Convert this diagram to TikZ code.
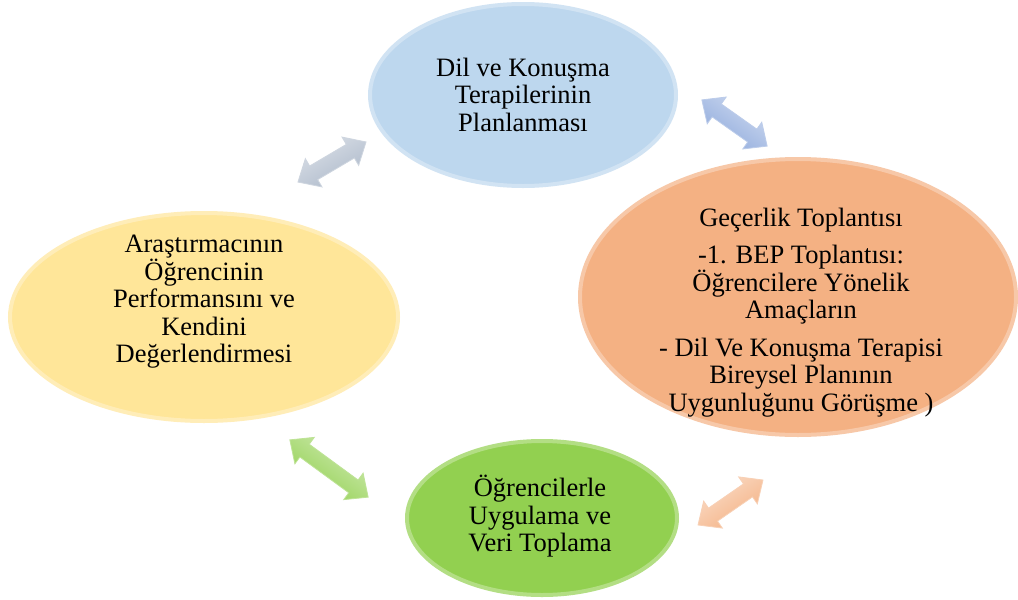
\documentclass[tikz,border=0pt]{standalone}
\usepackage{fontspec}
\setmainfont{Liberation Serif}
\usetikzlibrary{shapes.geometric,shapes.arrows}

\definecolor{bubbleblue}{HTML}{BDD7EE}
\definecolor{bubbleorange}{HTML}{F4B183}
\definecolor{bubbleyellow}{HTML}{FFE699}
\definecolor{bubblegreen}{HTML}{92D050}
\definecolor{arrowgray}{HTML}{ADB9CA}
\definecolor{arrowblue}{HTML}{8FAADC}
\definecolor{arrowgreen}{HTML}{92D050}
\definecolor{arroworange}{HTML}{F4B183}

\tikzset{
  bubble/.style={ellipse, inner sep=0, fill=#1, draw=white!30!#1, line width=4pt},
  label text/.style={align=center, inner sep=0, font=\fontsize{26.5}{27.5}\selectfont},
  twoway/.style 2 args={double arrow, inner xsep=0, inner ysep=7.5, double arrow head extend=8.5,
    double arrow tip angle=84, top color=white!55!#1, bottom color=#1, shading angle=#2,
    rotate=#2, draw=white!40!#1, line width=0.8pt}
}

\begin{document}
\begin{tikzpicture}[x=1pt,y=-1pt]
\useasboundingbox (0,0) rectangle (1018,600);
\fill[white] (0,0) rectangle (1018,600);

% four stages of the cycle
\node[bubble=bubbleblue,   minimum width=306, minimum height=182] (plan)   at (523,95)  {};
\node[bubble=bubbleorange, minimum width=436, minimum height=276] (meet)   at (798,297) {};
\node[bubble=bubbleyellow, minimum width=388, minimum height=208] (assess) at (204,317) {};
\node[bubble=bubblegreen,  minimum width=270, minimum height=154] (apply)  at (542,518) {};

\node[label text] (plantxt) at (523,94.5) {Dil ve Konuşma\\Terapilerinin\\Planlanması};
\node[label text] (meettxt) at (801,312.5) {Geçerlik Toplantısı\\[10pt]
  -1. BEP Toplantısı:\\Öğrencilere Yönelik\\Amaçların\\[10pt]
  - Dil Ve Konuşma Terapisi\\Bireysel Planının\\Uygunluğunu Görüşme )};
\node[label text] (assesstxt) at (204,302) {Araştırmacının\\Öğrencinin\\Performansını ve\\Kendini\\Değerlendirmesi};
\node[label text] (applytxt) at (540,516.5) {Öğrencilerle\\Uygulama ve\\Veri Toplama};

% two-way block arrows between neighbouring stages
\node[twoway={arrowgray}{30.5},   minimum height=79] (a1) at (332,162)     {};
\node[twoway={arrowblue}{-35.3},  minimum height=80] (a2) at (734.5,123)   {};
\node[twoway={arrowgreen}{-36.2}, minimum height=97] (a3) at (329,468.5)   {};
\node[twoway={arroworange}{34.7}, minimum height=79] (a4) at (730.5,502.5) {};
\end{tikzpicture}
\end{document}
